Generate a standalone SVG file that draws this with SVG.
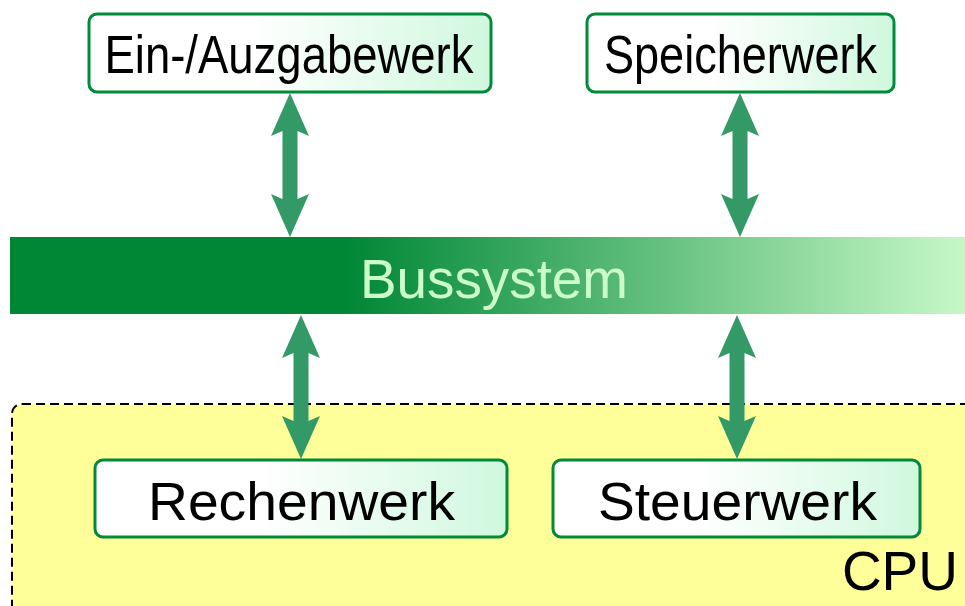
<svg xmlns="http://www.w3.org/2000/svg" width="965" height="606" viewBox="0 0 965 606">
  <defs>
    <linearGradient id="boxFill" x1="0" y1="0" x2="1" y2="0">
      <stop offset="0" stop-color="#ffffff"/>
      <stop offset="0.4" stop-color="#ffffff"/>
      <stop offset="1" stop-color="#d0f8de"/>
    </linearGradient>
    <linearGradient id="busFill" x1="0" y1="0" x2="1" y2="0">
      <stop offset="0" stop-color="#008736"/>
      <stop offset="0.35" stop-color="#008736"/>
      <stop offset="1" stop-color="#c8f9c8"/>
    </linearGradient>
    <style>
      .box { fill: url(#boxFill); stroke: #008a3a; stroke-width: 3; }
      .label { font-family: "Liberation Sans", Arial, sans-serif; fill: #000; text-anchor: middle; }
      .arrow { fill: #339966; }
    </style>
  </defs>

  <rect width="965" height="606" fill="#ffffff"/>

  <!-- CPU area -->
  <g id="cpu">
    <rect x="12" y="404" width="980" height="240" rx="10" fill="#ffff99" stroke="#000" stroke-width="2" stroke-dasharray="9,5"/>
    <text x="958" y="590" font-family="'Liberation Sans', Arial, sans-serif" font-size="55" text-anchor="end" fill="#000">CPU</text>
  </g>

  <!-- system bus -->
  <g id="bus">
    <rect x="10" y="237" width="960" height="77" fill="url(#busFill)"/>
    <text x="494" y="298" font-family="'Liberation Sans', Arial, sans-serif" font-size="56" text-anchor="middle" fill="#ccfccc" textLength="268" lengthAdjust="spacingAndGlyphs">Bussystem</text>
  </g>

  <g id="io">
    <rect class="box" x="89" y="14" width="402" height="78" rx="8"/>
    <text class="label" x="289" y="73" font-size="53" textLength="369" lengthAdjust="spacingAndGlyphs">Ein-/Auzgabewerk</text>
  </g>

  <g id="memory">
    <rect class="box" x="587" y="14" width="307" height="78" rx="8"/>
    <text class="label" x="740.5" y="73" font-size="53" textLength="273" lengthAdjust="spacingAndGlyphs">Speicherwerk</text>
  </g>

  <g id="alu">
    <rect class="box" x="95" y="460" width="412" height="77" rx="8"/>
    <text class="label" x="301.5" y="520" font-size="54" textLength="307" lengthAdjust="spacingAndGlyphs">Rechenwerk</text>
  </g>

  <g id="control">
    <rect class="box" x="553" y="460" width="367" height="77" rx="8"/>
    <text class="label" x="737.5" y="520" font-size="54" textLength="279" lengthAdjust="spacingAndGlyphs">Steuerwerk</text>
  </g>

  <!-- bidirectional bus connections -->
  <g id="connectors">
    <path class="arrow" d="M290,93 L309,136 L297.5,131 L297.5,199 L309,194 L290,237 L271,194 L282.5,199 L282.5,131 L271,136 Z"/>
    <path class="arrow" d="M740,93 L759,136 L747.5,131 L747.5,199 L759,194 L740,237 L721,194 L732.5,199 L732.5,131 L721,136 Z"/>
    <path class="arrow" d="M301,315 L320,358 L308.5,353 L308.5,421 L320,416 L301,459 L282,416 L293.5,421 L293.5,353 L282,358 Z"/>
    <path class="arrow" d="M737,315 L756,358 L744.5,353 L744.5,421 L756,416 L737,459 L718,416 L729.5,421 L729.5,353 L718,358 Z"/>
  </g>
</svg>
